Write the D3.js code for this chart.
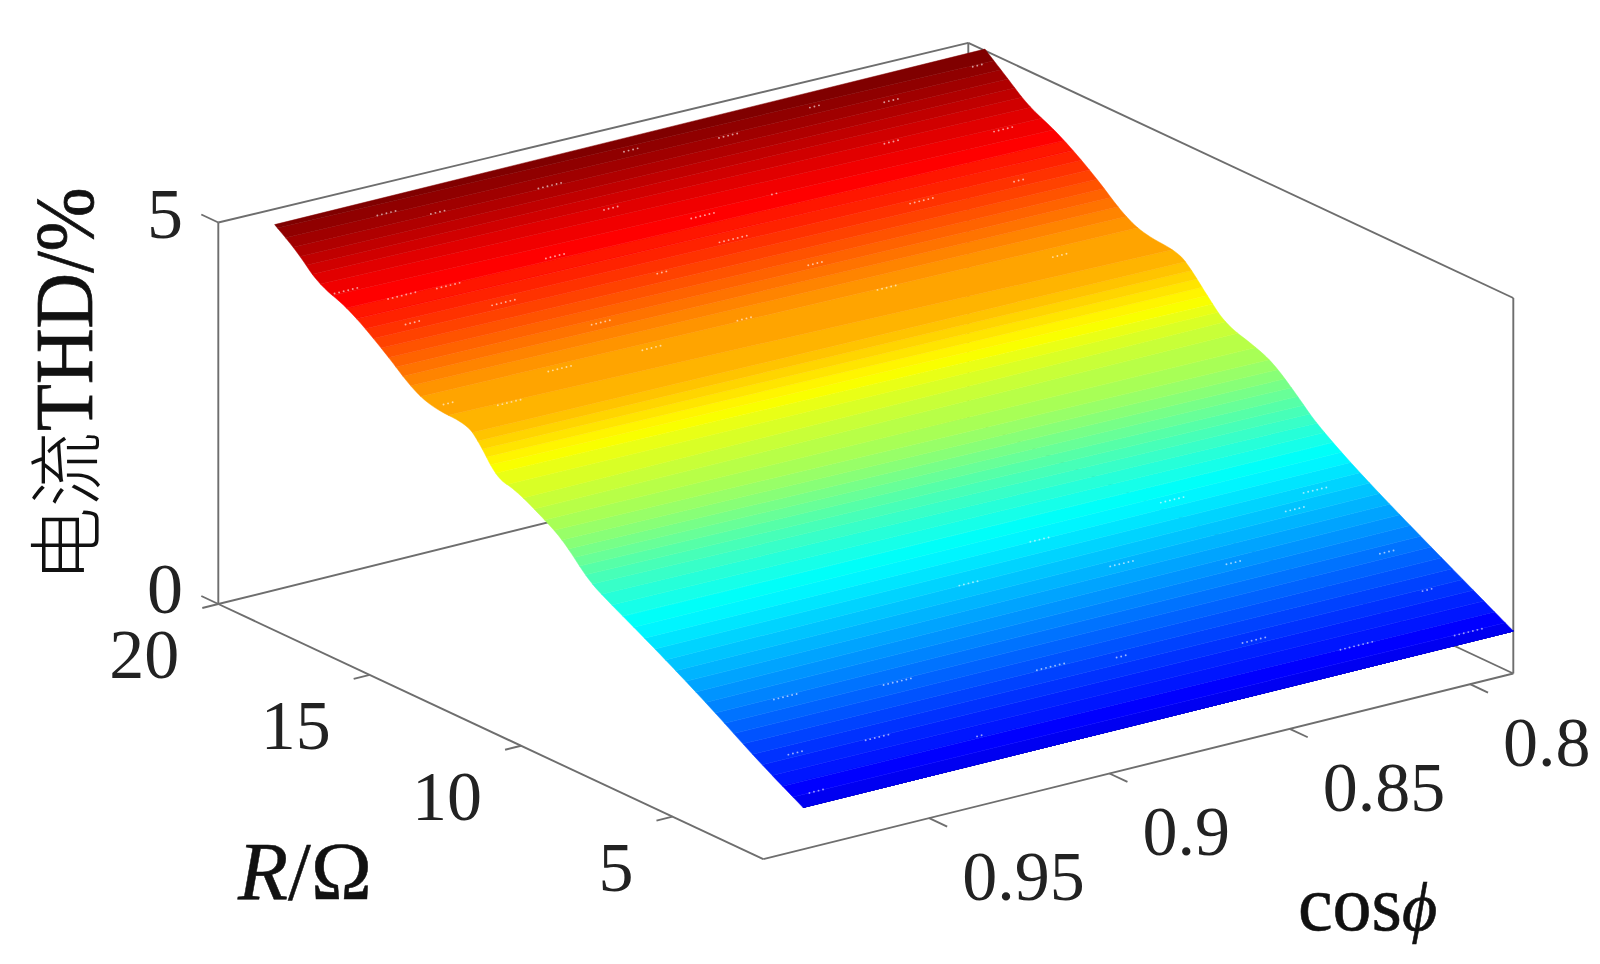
<!DOCTYPE html>
<html><head><meta charset="utf-8">
<style>html,body{margin:0;padding:0;background:#fff}svg{display:block}text{font-family:"Liberation Serif",serif;fill:#222}</style>
<script src="https://cdn.jsdelivr.net/npm/d3@7"></script></head><body>
<svg id="c" width="1600" height="964"></svg>
<script>
// data
const resistance = [2,3.5,5.2,7.1,8.5,9.1,9.9,10.5,11.5,12.1,12.7,13.1,14.2,14.9,15.8,17,18,18.7,19.45];
const thdHighCos = [.55,.89,1.33,1.77,2.07,2.22,2.57,2.73,2.95,2.99,3.35,3.51,3.52,3.64,3.95,4.30,4.44,4.73,4.95];
const thdLowCos  = [.566,.90,1.28,1.72,2.10,2.34,2.63,2.74,2.86,3.12,3.40,3.52,3.55,3.69,4.01,4.35,4.53,4.77,5.02];
const cosRange = [0.985,0.788];
const cosTicks = [0.95,0.9,0.85,0.8];
const cosTickLabels = ["0.95","0.9","0.85","0.8"];
const rTicks = [20,15,10,5];
const zTicks = [0,5];
// small gaps seen in the mesh: column and row as fractions of the mesh, and number of dots
const gapCol = [.145,.206,.363,.492,.62,.749,.845,.979,.024,.078,.142,.296,.417,.509,.615,.808,.947,.064,.19,.286,.404,.52,.593,.777,.91,.025,.191,.318,.456,.652,.883,.085,.933,.889,.947,.631,.434,.246,.101,.054,.036,.164,.282,.438,.53,.699,.809,.951,.563,.76,.758,.951];
const gapRow = [.979,.964,.963,.983,.971,.981,.965,.982,.893,.86,.858,.863,.92,.87,.877,.915,.89,.821,.818,.763,.806,.827,.77,.816,.811,.701,.713,.71,.72,.714,.697,.666,.281,.26,.164,.241,.266,.148,.165,.083,.019,.076,.041,.116,.106,.082,.036,.015,.305,.203,.316,.093];
const gapDots = [5,4,6,4,5,3,4,3,6,7,6,5,4,6,2,4,5,4,6,5,3,7,4,6,3,3,6,5,4,5,4,6,6,5,4,6,5,7,6,4,4,6,2,7,3,6,8,7,5,4,6,3];

const svg = d3.select("#c");
const softFilter=svg.append("defs").append("filter").attr("id","soft").attr("x","-5%").attr("y","-5%").attr("width","110%").attr("height","110%");
softFilter.append("feGaussianBlur").attr("stdDeviation",0.6);
const aS = d3.scaleLinear([0.996,0.788],[0,1]);
const bS = d3.scaleLinear([2,20],[0,1]);
const zS = d3.scaleLinear([0,5],[0,1]);
const hS = d3.scaleLinear([0,1],[381.5,375.5]);
function P(c,r,z){const a=aS(c),b=bS(r);
  return [763.3+750*a-545*b, 859.2-185.7*a-255.2*b-hS(a)*zS(z)];}
const C0=0.996,C1=0.788,R0=2,R1=20;
const line=(pts)=>"M"+pts.map(p=>p.map(v=>v.toFixed(2)).join(",")).join("L");

const g=svg.append("g").attr("fill","none").attr("stroke","#6e6e6e").attr("stroke-width",1.9);
[[[C0,R1,0],[C1,R1,0]],[[C1,R1,0],[C1,R0,0]],[[C0,R1,0],[C0,R0,0]],[[C0,R0,0],[C1,R0,0]],
 [[C0,R1,0],[C0,R1,5]],[[C1,R1,0],[C1,R1,5]],[[C1,R0,0],[C1,R0,5]],
 [[C0,R1,5],[C1,R1,5]],[[C1,R1,5],[C1,R0,5]]].forEach(s=>g.append("path").attr("d",line(s.map(q=>P(...q)))));

cosTicks.forEach(c=>{const p=P(c,R0,0);g.append("path").attr("d",line([p,[p[0]+18,p[1]+8.4]]));});
rTicks.forEach(r=>{const p=P(C0,r,0);g.append("path").attr("d",line([p,[p[0]-16,p[1]+4]]));});
zTicks.forEach(z=>{const p=P(C0,R1,z);g.append("path").attr("d",line([p,[p[0]-17,p[1]-8]]));});

// surface: jet colours in 64 steps over the z axis
function jet(f){const cl=v=>Math.max(0,Math.min(1,v));
  return d3.rgb(255*cl(1.5-Math.abs(4*f-3)),255*cl(1.5-Math.abs(4*f-2)),255*cl(1.5-Math.abs(4*f-1))).formatHex();}
const jetColors=d3.range(64).map(i=>jet(i/63));
const zColor=d3.scaleQuantize().domain([0,5]).range(jetColors);
const levels=[-10,...zColor.thresholds(),10];
function roundEdge(v,n){let a=v;for(let k=0;k<n;k++){const o=[a[0]];
  for(let i=0;i<a.length-1;i++){o.push(a[i]*.75+a[i+1]*.25,a[i]*.25+a[i+1]*.75);}
  o.push(a[a.length-1]);a=o;}return a;}
const rr=roundEdge(resistance,3),zH=roundEdge(thdHighCos,3),zL=roundEdge(thdLowCos,3);
function slice(zs,z0,z1){
  const lo=zs[0],hi=zs[zs.length-1];
  const Z0=Math.max(lo,Math.min(hi,z0)),Z1=Math.max(lo,Math.min(hi,z1));
  const inv=d3.scaleLinear().domain(zs).range(rr);
  const pts=[[inv(Z0),Z0]];
  zs.forEach((z,i)=>{if(z>Z0&&z<Z1)pts.push([rr[i],z]);});
  pts.push([inv(Z1),Z1]);return pts;
}
const sg=svg.append("g").attr("filter","url(#soft)");
levels.slice(0,-1).forEach((z0,i)=>{
  const z1=levels[i+1],col=jetColors[i];
  const L=slice(zH,z0,z1).map(q=>P(cosRange[0],q[0],q[1]));
  const Rr=slice(zL,z0,z1).map(q=>P(cosRange[1],q[0],q[1])).reverse();
  sg.append("path").attr("d",line([...L,...Rr])+"Z").attr("fill",col).attr("stroke",col).attr("stroke-width",0.5);
});
// mesh gaps
const colS=d3.scaleLinear([0,1],cosRange),rowS=d3.scaleLinear([0,1],[2,19.45]);
const zHi=d3.scaleLinear(resistance,thdHighCos),zLo=d3.scaleLinear(resistance,thdLowCos);
const dg=svg.append("g");
gapCol.forEach((u0,i)=>{
  const r=rowS(gapRow[i]);
  const zz=zHi(r)+(zLo(r)-zHi(r))*u0;
  const col=d3.interpolateRgb(zColor(zz),"#ffffff")(0.6);
  d3.range(gapDots[i]).forEach(k=>{
    const u=u0+(k-gapDots[i]/2)*0.0064;
    const p=P(colS(u),r,zHi(r)+(zLo(r)-zHi(r))*u);
    dg.append("circle").attr("cx",p[0]).attr("cy",p[1]).attr("r",0.95).attr("fill",col);
  });
});

// labels
const T=(s,x,y,size,anchor)=>svg.append("text").attr("x",x).attr("y",y).attr("font-size",size).attr("text-anchor",anchor||"start").text(s);
cosTicks.forEach((c,i)=>{const p=P(c,R0,0);T(cosTickLabels[i],p[0]+33,p[1]+82,70);});
rTicks.forEach(r=>{const p=P(C0,r,0);T(String(r),p[0]-39,p[1]+74,70,"end");});
zTicks.forEach(z=>{const p=P(C0,R1,z);T(String(z),183,p[1]+(z?15:9),72,"end");});

svg.append("text").attr("transform","translate(94,582) rotate(-90)").attr("font-size",75)
   .attr("style","font-family:'Noto Sans CJK SC';font-weight:300;fill:#111").text("电流");
svg.append("text").attr("transform","translate(92,431) rotate(-90) scale(1,1.08)").attr("font-size",77)
   .attr("style","fill:#111;stroke:#111;stroke-width:.7").text("THD/%");
const rl=svg.append("text").attr("x",238).attr("y",899).attr("font-size",82).attr("style","fill:#111;stroke:#111;stroke-width:.5");
rl.append("tspan").attr("font-style","italic").text("R");rl.append("tspan").text("/Ω");
const cosLab=svg.append("text").attr("x",1298).attr("y",930).attr("font-size",78).attr("style","fill:#111;stroke:#111;stroke-width:.6");
cosLab.append("tspan").text("cos");cosLab.append("tspan").attr("font-style","italic").attr("font-size",68).text("ϕ");
</script></body></html>
